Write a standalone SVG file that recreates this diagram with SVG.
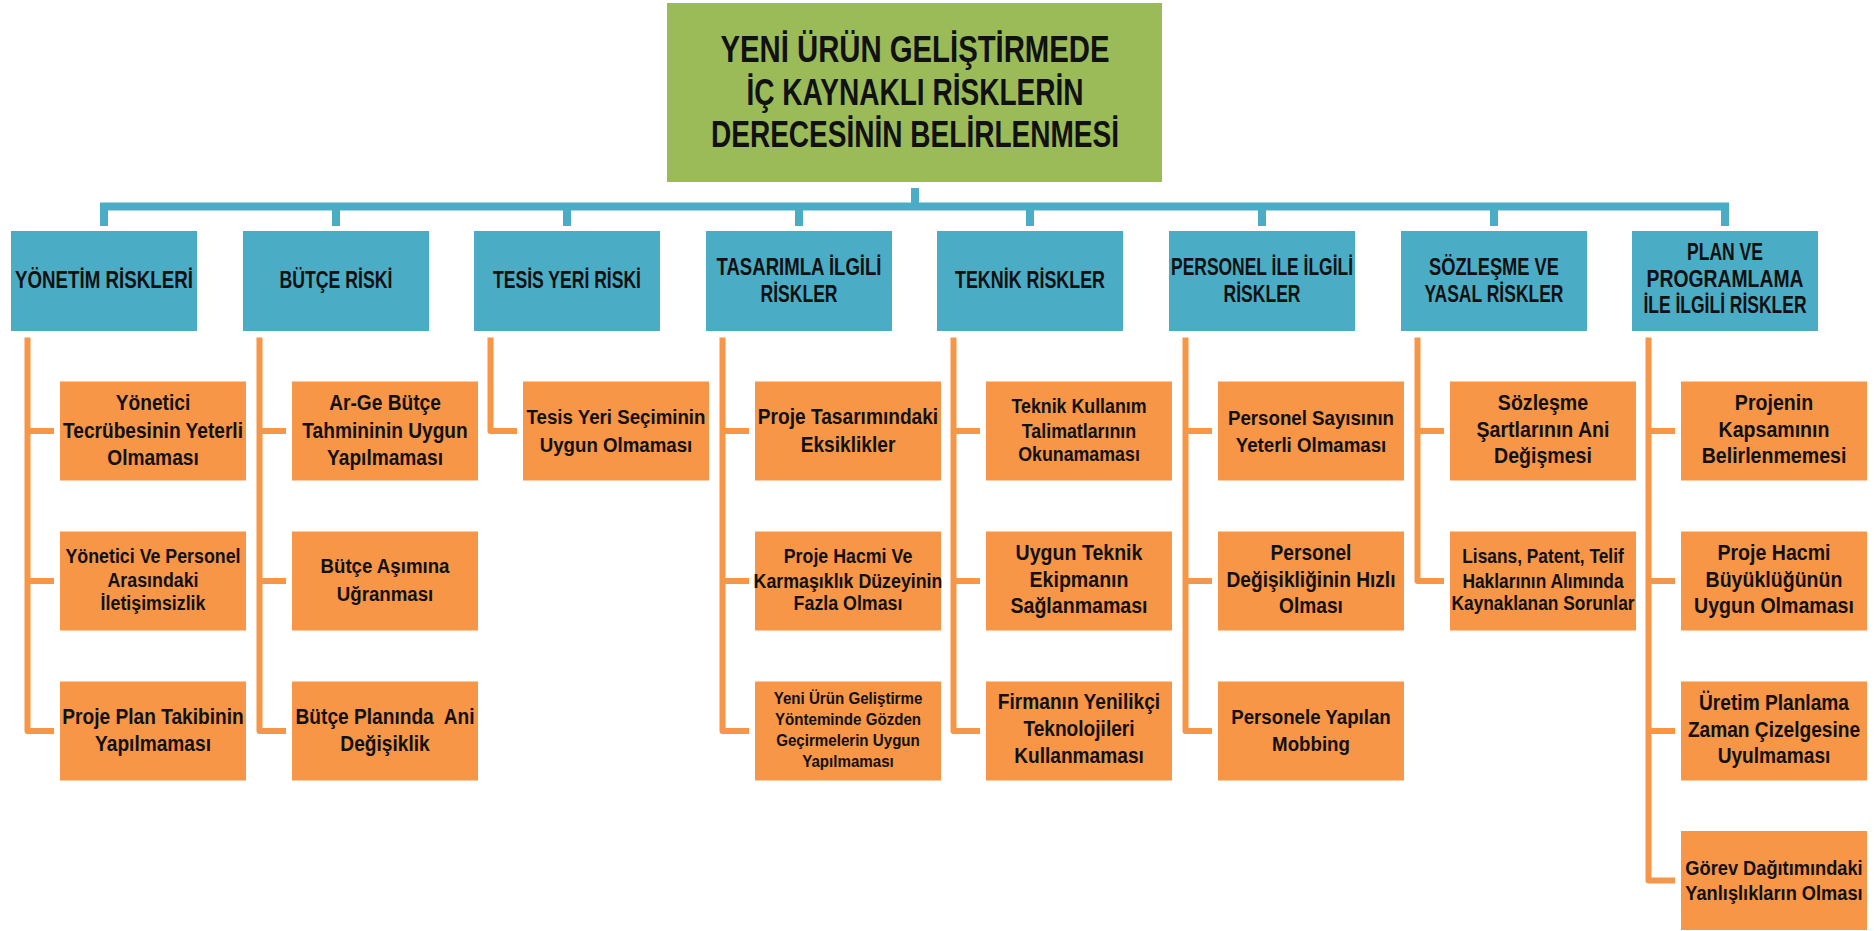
<svg xmlns="http://www.w3.org/2000/svg" width="1874" height="931" viewBox="0 0 1874 931">
<style>
.bg{fill:#ffffff}
.title{fill:#9BBB59}
.hd{fill:#4BACC6}
.or{fill:#F79646}
.t{font-family:"Liberation Sans",Arial,sans-serif;font-weight:bold;fill:#111;text-anchor:middle}
.blue{fill:none;stroke:#4BACC6;stroke-width:8;stroke-linejoin:miter}
.org{fill:none;stroke:#F79646;stroke-width:6;stroke-linejoin:round}
</style>
<rect class="bg" x="0" y="0" width="1874" height="931"/>

<g id="connectors">
  <path class="blue" d="M915 188 V206.5"/>
  <path class="blue" d="M104 226 V206.5 H1725 V226"/>
  <path class="blue" d="M336 206.5 V226 M567 206.5 V226 M799 206.5 V226 M1030 206.5 V226 M1262 206.5 V226 M1494 206.5 V226"/>
  <path class="org" d="M27.5 337.5 V731 H54 M27.5 431 H54 M27.5 581 H54"/>
  <path class="org" d="M259.5 337.5 V731 H286 M259.5 431 H286 M259.5 581 H286"/>
  <path class="org" d="M490.5 337.5 V431 H517"/>
  <path class="org" d="M722.5 337.5 V731 H749 M722.5 431 H749 M722.5 581 H749"/>
  <path class="org" d="M953.5 337.5 V731 H980 M953.5 431 H980 M953.5 581 H980"/>
  <path class="org" d="M1185.5 337.5 V731 H1212 M1185.5 431 H1212 M1185.5 581 H1212"/>
  <path class="org" d="M1417.5 337.5 V581 H1444 M1417.5 431 H1444"/>
  <path class="org" d="M1648.5 337.5 V880.5 H1675 M1648.5 431 H1675 M1648.5 581 H1675 M1648.5 731 H1675"/>
</g>

<g id="root">
  <rect class="title" x="667" y="3" width="495" height="179"/>
  <text class="t" x="915" y="61.7" font-size="37" textLength="389" lengthAdjust="spacingAndGlyphs">YENİ ÜRÜN GELİŞTİRMEDE</text>
  <text class="t" x="915" y="104.5" font-size="37" textLength="337" lengthAdjust="spacingAndGlyphs">İÇ KAYNAKLI RİSKLERİN</text>
  <text class="t" x="915" y="146.7" font-size="37" textLength="408" lengthAdjust="spacingAndGlyphs">DERECESİNİN BELİRLENMESİ</text>
</g>

<g id="h1"><rect class="hd" x="11" y="231" width="186" height="100"/>
  <text class="t" x="104" y="288" font-size="23" textLength="178" lengthAdjust="spacingAndGlyphs">YÖNETİM RİSKLERİ</text></g>
<g id="h2"><rect class="hd" x="243" y="231" width="186" height="100"/>
  <text class="t" x="336" y="288" font-size="23" textLength="113" lengthAdjust="spacingAndGlyphs">BÜTÇE RİSKİ</text></g>
<g id="h3"><rect class="hd" x="474" y="231" width="186" height="100"/>
  <text class="t" x="567" y="288" font-size="23" textLength="148" lengthAdjust="spacingAndGlyphs">TESİS YERİ RİSKİ</text></g>
<g id="h4"><rect class="hd" x="706" y="231" width="186" height="100"/>
  <text class="t" x="799" y="275" font-size="23" textLength="165" lengthAdjust="spacingAndGlyphs">TASARIMLA İLGİLİ</text>
  <text class="t" x="799" y="301.7" font-size="23" textLength="77" lengthAdjust="spacingAndGlyphs">RİSKLER</text></g>
<g id="h5"><rect class="hd" x="937" y="231" width="186" height="100"/>
  <text class="t" x="1030" y="288" font-size="23" textLength="150" lengthAdjust="spacingAndGlyphs">TEKNİK RİSKLER</text></g>
<g id="h6"><rect class="hd" x="1169" y="231" width="186" height="100"/>
  <text class="t" x="1262" y="275" font-size="23" textLength="182" lengthAdjust="spacingAndGlyphs">PERSONEL İLE İLGİLİ</text>
  <text class="t" x="1262" y="301.7" font-size="23" textLength="77" lengthAdjust="spacingAndGlyphs">RİSKLER</text></g>
<g id="h7"><rect class="hd" x="1401" y="231" width="186" height="100"/>
  <text class="t" x="1494" y="275" font-size="23" textLength="130" lengthAdjust="spacingAndGlyphs">SÖZLEŞME VE</text>
  <text class="t" x="1494" y="301.7" font-size="23" textLength="139" lengthAdjust="spacingAndGlyphs">YASAL RİSKLER</text></g>
<g id="h8"><rect class="hd" x="1632" y="231" width="186" height="100"/>
  <text class="t" x="1725" y="260" font-size="23" textLength="76" lengthAdjust="spacingAndGlyphs">PLAN VE</text>
  <text class="t" x="1725" y="286.7" font-size="23" textLength="157" lengthAdjust="spacingAndGlyphs">PROGRAMLAMA</text>
  <text class="t" x="1725" y="313" font-size="23" textLength="163" lengthAdjust="spacingAndGlyphs">İLE İLGİLİ RİSKLER</text></g>

<g id="c1r1"><rect class="or" x="60" y="381.5" width="186" height="99"/>
  <g transform="translate(153 0) scale(0.89 1)"><text class="t" font-size="21.5"><tspan x="0" y="410">Yönetici</tspan><tspan x="0" y="438">Tecrübesinin Yeterli</tspan><tspan x="0" y="465">Olmaması</tspan></text></g></g>
<g id="c1r2"><rect class="or" x="60" y="531.5" width="186" height="99"/>
  <g transform="translate(153 0) scale(0.89 1)"><text class="t" font-size="20"><tspan x="0" y="563">Yönetici Ve Personel</tspan><tspan x="0" y="587">Arasındaki</tspan><tspan x="0" y="610">İletişimsizlik</tspan></text></g></g>
<g id="c1r3"><rect class="or" x="60" y="681.5" width="186" height="99"/>
  <g transform="translate(153 0) scale(0.89 1)"><text class="t" font-size="21.5"><tspan x="0" y="724">Proje Plan Takibinin</tspan><tspan x="0" y="751">Yapılmaması</tspan></text></g></g>

<g id="c2r1"><rect class="or" x="292" y="381.5" width="186" height="99"/>
  <g transform="translate(385 0) scale(0.89 1)"><text class="t" font-size="21.5"><tspan x="0" y="410">Ar-Ge Bütçe</tspan><tspan x="0" y="438">Tahmininin Uygun</tspan><tspan x="0" y="465">Yapılmaması</tspan></text></g></g>
<g id="c2r2"><rect class="or" x="292" y="531.5" width="186" height="99"/>
  <g transform="translate(385 0) scale(0.89 1)"><text class="t" font-size="21"><tspan x="0" y="573">Bütçe Aşımına</tspan><tspan x="0" y="601">Uğranması</tspan></text></g></g>
<g id="c2r3"><rect class="or" x="292" y="681.5" width="186" height="99"/>
  <g transform="translate(385 0) scale(0.89 1)"><text class="t" font-size="21.5" xml:space="preserve"><tspan x="0" y="724">Bütçe Planında  Ani</tspan><tspan x="0" y="751">Değişiklik</tspan></text></g></g>

<g id="c3r1"><rect class="or" x="523" y="381.5" width="186" height="99"/>
  <g transform="translate(616 0) scale(0.89 1)"><text class="t" font-size="21"><tspan x="0" y="424">Tesis Yeri Seçiminin</tspan><tspan x="0" y="452">Uygun Olmaması</tspan></text></g></g>

<g id="c4r1"><rect class="or" x="755" y="381.5" width="186" height="99"/>
  <g transform="translate(848 0) scale(0.89 1)"><text class="t" font-size="21.5"><tspan x="0" y="424">Proje Tasarımındaki</tspan><tspan x="0" y="452">Eksiklikler</tspan></text></g></g>
<g id="c4r2"><rect class="or" x="755" y="531.5" width="186" height="99"/>
  <g transform="translate(848 0) scale(0.89 1)"><text class="t" font-size="20"><tspan x="0" y="563">Proje Hacmi Ve</tspan><tspan x="0" y="588">Karmaşıklık Düzeyinin</tspan><tspan x="0" y="610">Fazla Olması</tspan></text></g></g>
<g id="c4r3"><rect class="or" x="755" y="681.5" width="186" height="99"/>
  <g transform="translate(848 0) scale(0.89 1)"><text class="t" font-size="17"><tspan x="0" y="704">Yeni Ürün Geliştirme</tspan><tspan x="0" y="725">Yönteminde Gözden</tspan><tspan x="0" y="746">Geçirmelerin Uygun</tspan><tspan x="0" y="767">Yapılmaması</tspan></text></g></g>

<g id="c5r1"><rect class="or" x="986" y="381.5" width="186" height="99"/>
  <g transform="translate(1079 0) scale(0.89 1)"><text class="t" font-size="20"><tspan x="0" y="413">Teknik Kullanım</tspan><tspan x="0" y="438">Talimatlarının</tspan><tspan x="0" y="461">Okunamaması</tspan></text></g></g>
<g id="c5r2"><rect class="or" x="986" y="531.5" width="186" height="99"/>
  <g transform="translate(1079 0) scale(0.89 1)"><text class="t" font-size="22"><tspan x="0" y="560">Uygun Teknik</tspan><tspan x="0" y="587">Ekipmanın</tspan><tspan x="0" y="613">Sağlanmaması</tspan></text></g></g>
<g id="c5r3"><rect class="or" x="986" y="681.5" width="186" height="99"/>
  <g transform="translate(1079 0) scale(0.89 1)"><text class="t" font-size="21.5"><tspan x="0" y="709">Firmanın Yenilikçi</tspan><tspan x="0" y="736">Teknolojileri</tspan><tspan x="0" y="763">Kullanmaması</tspan></text></g></g>

<g id="c6r1"><rect class="or" x="1218" y="381.5" width="186" height="99"/>
  <g transform="translate(1311 0) scale(0.89 1)"><text class="t" font-size="21"><tspan x="0" y="425">Personel Sayısının</tspan><tspan x="0" y="452">Yeterli Olmaması</tspan></text></g></g>
<g id="c6r2"><rect class="or" x="1218" y="531.5" width="186" height="99"/>
  <g transform="translate(1311 0) scale(0.89 1)"><text class="t" font-size="21.5"><tspan x="0" y="560">Personel</tspan><tspan x="0" y="587">Değişikliğinin Hızlı</tspan><tspan x="0" y="613">Olması</tspan></text></g></g>
<g id="c6r3"><rect class="or" x="1218" y="681.5" width="186" height="99"/>
  <g transform="translate(1311 0) scale(0.89 1)"><text class="t" font-size="21"><tspan x="0" y="724">Personele Yapılan</tspan><tspan x="0" y="751">Mobbing</tspan></text></g></g>

<g id="c7r1"><rect class="or" x="1450" y="381.5" width="186" height="99"/>
  <g transform="translate(1543 0) scale(0.89 1)"><text class="t" font-size="22"><tspan x="0" y="410">Sözleşme</tspan><tspan x="0" y="437">Şartlarının Ani</tspan><tspan x="0" y="463">Değişmesi</tspan></text></g></g>
<g id="c7r2"><rect class="or" x="1450" y="531.5" width="186" height="99"/>
  <g transform="translate(1543 0) scale(0.89 1)"><text class="t" font-size="19.5"><tspan x="0" y="563">Lisans, Patent, Telif</tspan><tspan x="0" y="588">Haklarının Alımında</tspan><tspan x="0" y="610">Kaynaklanan Sorunlar</tspan></text></g></g>

<g id="c8r1"><rect class="or" x="1681" y="381.5" width="186" height="99"/>
  <g transform="translate(1774 0) scale(0.89 1)"><text class="t" font-size="22"><tspan x="0" y="410">Projenin</tspan><tspan x="0" y="437">Kapsamının</tspan><tspan x="0" y="463">Belirlenmemesi</tspan></text></g></g>
<g id="c8r2"><rect class="or" x="1681" y="531.5" width="186" height="99"/>
  <g transform="translate(1774 0) scale(0.89 1)"><text class="t" font-size="22"><tspan x="0" y="560">Proje Hacmi</tspan><tspan x="0" y="587">Büyüklüğünün</tspan><tspan x="0" y="613">Uygun Olmaması</tspan></text></g></g>
<g id="c8r3"><rect class="or" x="1681" y="681.5" width="186" height="99"/>
  <g transform="translate(1774 0) scale(0.89 1)"><text class="t" font-size="21.5"><tspan x="0" y="710">Üretim Planlama</tspan><tspan x="0" y="737">Zaman Çizelgesine</tspan><tspan x="0" y="763">Uyulmaması</tspan></text></g></g>
<g id="c8r4"><rect class="or" x="1681" y="831" width="186" height="99"/>
  <g transform="translate(1774 0) scale(0.89 1)"><text class="t" font-size="20.5"><tspan x="0" y="875">Görev Dağıtımındaki</tspan><tspan x="0" y="900">Yanlışlıkların Olması</tspan></text></g></g>
</svg>
